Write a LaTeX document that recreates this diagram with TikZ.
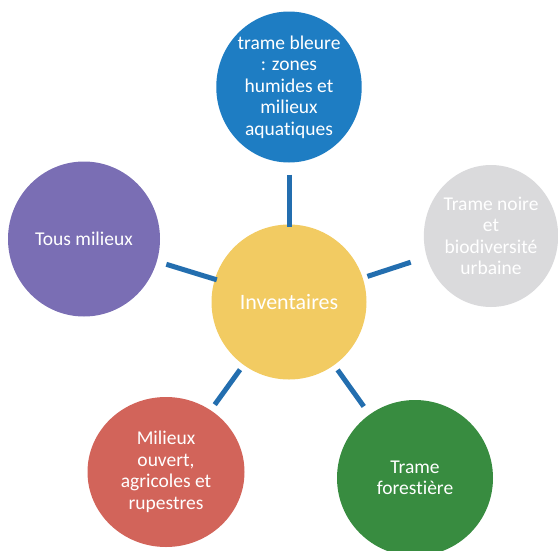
\documentclass[tikz,border=0pt]{standalone}
\usepackage{fontspec}
\setmainfont{Carlito}[Ligatures={NoCommon,NoContextual,NoRare}]
\usetikzlibrary{shapes.geometric}
\definecolor{cblue}{HTML}{1E7DC3}
\definecolor{cyellow}{HTML}{F2CB62}
\definecolor{cpurple}{HTML}{7A6EB4}
\definecolor{cgray}{HTML}{DADADC}
\definecolor{cred}{HTML}{D2645A}
\definecolor{cgreen}{HTML}{388C40}
\definecolor{cline}{HTML}{236EAF}
\tikzset{
  bubble/.style={ellipse, inner sep=0pt, outer sep=0pt, text=white, align=center,
    font=\fontsize{19.5}{21.5}\selectfont},
  link/.style={draw=cline, line width=5pt}
}
\begin{document}
\begin{tikzpicture}[x=1pt,y=-1pt]
\useasboundingbox (0,0) rectangle (558,550);
\node[bubble, fill=cblue, minimum width=137pt, minimum height=151pt] (blue) at (289,87)
  {trame bleure\\: zones\\humides et\\milieux\\aquat\kern0pt iques};
\node[bubble, fill=cyellow, minimum width=155pt, minimum height=155pt,
  font=\fontsize{22}{24}\selectfont] (center) at (289,302) {Inventaires};
\node[bubble, fill=cpurple, minimum width=152pt, minimum height=155pt] (purple) at (84,239)
  {Tous milieux};
\node[bubble, fill=cgray, minimum width=133pt, minimum height=142pt] (gray) at (491,236)
  {Trame noire\\et\\biodiversité\\urbaine};
\node[bubble, fill=cred, minimum width=157pt, minimum height=150pt] (red) at (166,472)
  {Milieux\\ouvert,\\agricoles et\\rupestres};
\node[bubble, fill=cgreen, minimum width=156pt, minimum height=156pt] (green) at (415,478)
  {Trame\\forest\kern0pt ière};
\draw[link, shorten <=12pt, shorten >=-2pt] (blue) -- (center);
\draw[link, shorten <=10pt, shorten >=-2pt] (purple) -- (center);
\draw[link, shorten <=5pt, shorten >=17pt] (center) -- (gray);
\draw[link, shorten <=6pt, shorten >=7pt] (center) -- (red);
\draw[link, shorten <=6pt, shorten >=10pt] (center) -- (green);
\end{tikzpicture}
\end{document}
